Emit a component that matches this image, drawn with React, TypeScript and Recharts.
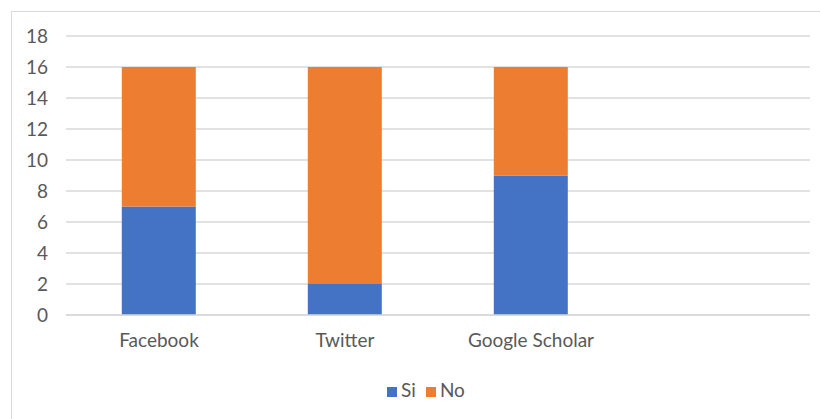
import { BarChart, Bar, XAxis, YAxis, CartesianGrid, Legend } from 'recharts';

// values (Excel-style stacked columns)
const categories = ['Facebook', 'Twitter', 'Google Scholar', ''];
const siValues = [7, 2, 9, null];
const noValues = [9, 14, 7, null];
const yTicks = [0, 2, 4, 6, 8, 10, 12, 14, 16, 18];
const legendOrder = ['Si', 'No'];

const data = categories.map((name, i) => ({
  name,
  Si: siValues[i],
  No: noValues[i],
}));

const textColor = '#595959';
const gridColor = '#d9d9d9';
const font = 'Lato, "Noto Sans", sans-serif';

export default function App() {
  return (
    <div
      style={{
        position: 'absolute',
        left: 11,
        top: 11,
        width: 830,
        height: 430,
        border: `1px solid ${gridColor}`,
        background: '#fff',
        fontFamily: font,
      }}
    >
      <BarChart
        width={809}
        height={408}
        data={data}
        margin={{ top: 24, right: 11, bottom: 19, left: 0 }}
        barCategoryGap="30%"
      >
        <CartesianGrid vertical={false} stroke={gridColor} strokeWidth={1.5} />
        <XAxis
          dataKey="name"
          axisLine={{ stroke: gridColor, strokeWidth: 1.5 }}
          tickLine={false}
          tickSize={0}
          tickMargin={19}
          height={63}
          interval={0}
          tick={{ fill: textColor, fontSize: 19, fontFamily: font }}
        />
        <YAxis
          domain={[0, 18]}
          ticks={yTicks}
          axisLine={false}
          tickLine={false}
          tickSize={0}
          tickMargin={18}
          width={54}
          tick={{ fill: textColor, fontSize: 19, fontFamily: font }}
        />
        <Legend
          verticalAlign="bottom"
          iconType="square"
          iconSize={10}
          itemSorter={(item: any) => legendOrder.indexOf(item.value)}
          wrapperStyle={{ color: textColor, fontSize: 19, fontFamily: font, paddingLeft: 20 }}
          formatter={(value) => <span style={{ color: textColor }}>{value}</span>}
        />
        <Bar dataKey="Si" stackId="a" fill="#4472C4" isAnimationActive={false} />
        <Bar dataKey="No" stackId="a" fill="#ED7D31" isAnimationActive={false} />
      </BarChart>
    </div>
  );
}
